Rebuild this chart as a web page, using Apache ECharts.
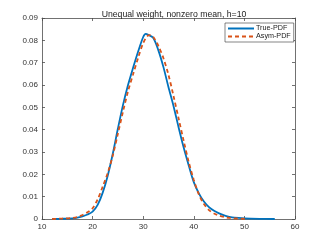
<!DOCTYPE html>
<html><head><meta charset="utf-8">
<script src="https://cdn.jsdelivr.net/npm/echarts@6/dist/echarts.min.js"></script>
<style>html,body{margin:0;padding:0;background:#fff}#c{width:327px;height:245px}</style>
</head><body><div id="c"></div>
<script>
const titleText = 'Unequal weight, nonzero mean, h=10';
const seriesNames = ['True-PDF', 'Asym-PDF'];
const trueX = [12,14,16,17,18,19,20,21,22,23,24,25,26,27,28,29,30,30.5,31,32,33,34,35,36,37,38,39,40,41,42,43,44,45,46,47,48,50,53,56];
const trueY = [0,0.0001,0.0003,0.0006,0.0012,0.002,0.0033,0.0063,0.0118,0.0195,0.0293,0.0405,0.051,0.06,0.0677,0.075,0.0815,0.0829,0.0825,0.081,0.0755,0.068,0.059,0.0505,0.041,0.032,0.024,0.0165,0.0115,0.0078,0.0053,0.0037,0.0025,0.0016,0.001,0.0006,0.0003,0.0001,0];
const asymX = [12,14,16,17,18,19,20,21,22,23,24,25,26,27,28,29,30,31,31.5,32,33,34,35,36,37,38,39,40,41,42,43,44,45,46,47,48,50,50.5];
const asymY = [0,0.0002,0.0005,0.0009,0.0018,0.003,0.0048,0.0088,0.0145,0.0207,0.0285,0.0382,0.048,0.0572,0.0648,0.0722,0.0788,0.0822,0.0823,0.0815,0.0775,0.072,0.0645,0.055,0.045,0.035,0.0255,0.0175,0.011,0.0067,0.004,0.0025,0.0015,0.0009,0.0005,0.0003,0.0001,0];
const xTicks = [10,20,30,40,50,60];
const yTicks = [0,0.01,0.02,0.03,0.04,0.05,0.06,0.07,0.08,0.09];

const axisCol = '#4d4d4d';
const font = 'Liberation Sans';
const zip = (a,b) => a.map((v,i)=>[v,b[i]]);
const chart = echarts.init(document.getElementById('c'), null, {renderer:'canvas'});
const baseX = {type:'value', min:xTicks[0], max:xTicks[xTicks.length-1], interval:10, splitLine:{show:false},
  axisLine:{show:true, onZero:false, lineStyle:{color:axisCol, width:0.8}},
  axisTick:{show:true, inside:true, length:3, lineStyle:{color:axisCol, width:0.8}}};
const baseY = {type:'value', min:yTicks[0], max:yTicks[yTicks.length-1], interval:0.01, splitLine:{show:false},
  axisLine:{show:true, onZero:false, lineStyle:{color:axisCol, width:0.8}},
  axisTick:{show:true, inside:true, length:3, lineStyle:{color:axisCol, width:0.8}}};
chart.setOption({
  animation:false,
  title:{text:titleText, left:169, top:5, textAlign:'center',
    textStyle:{fontFamily:font, fontSize:8.7, fontWeight:'normal', color:'#222'}},
  grid:{left:42, right:32, top:18, bottom:26, containLabel:false},
  legend:{data:seriesNames, orient:'vertical', left:225, top:23, width:64,
    itemWidth:26, itemHeight:4, itemGap:1, padding:[2,3,2,2],
    borderColor:'#333', borderWidth:0.6, backgroundColor:'#fff',
    itemStyle:{opacity:0},
    textStyle:{fontFamily:font, fontSize:7.2, color:'#222', padding:[0,0,0,-3]}},
  xAxis:[Object.assign({}, baseX, {position:'bottom',
      axisLabel:{fontFamily:font, fontSize:8, color:'#333', margin:4}}),
    Object.assign({}, baseX, {position:'top', axisLabel:{show:false}})],
  yAxis:[Object.assign({}, baseY, {position:'left',
      axisLabel:{fontFamily:font, fontSize:8, color:'#333', margin:4,
        formatter:v=>v===0?'0':v.toFixed(2)}}),
    Object.assign({}, baseY, {position:'right', axisLabel:{show:false}})],
  series:[
    {name:seriesNames[0], type:'line', data:zip(trueX,trueY), smooth:0.3, symbol:'none',
      lineStyle:{color:'#0072BD', width:1.8}, itemStyle:{color:'#0072BD'}, z:2},
    {name:seriesNames[1], type:'line', data:zip(asymX,asymY), smooth:0.3, symbol:'none',
      lineStyle:{color:'#D95319', width:1.8, type:[4,3]}, itemStyle:{color:'#D95319'}, z:3}
  ]
});
</script></body></html>
